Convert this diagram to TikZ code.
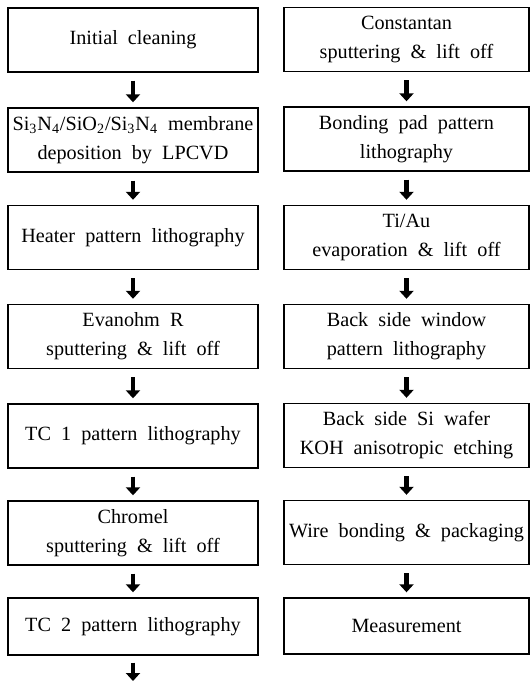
\documentclass[tikz,border=0pt]{standalone}
\usepackage{fontspec}
\setmainfont{Liberation Serif}[WordSpace=2.0]
\usetikzlibrary{arrows.meta}

\begin{document}
\begin{tikzpicture}[
  font=\fontsize{11.5}{16.5}\selectfont,
  stepbox/.style={
    rectangle,
    draw=black,
    line width=0.8pt,
    align=center,
    inner sep=1pt,
    minimum width=5cm,
    minimum height=1.28cm
  },
  rightbox/.style={
    stepbox,
    minimum width=4.9cm
  },
  arrow/.style={-{Triangle[width=2.8mm,length=1.6mm]}, line width=2.8pt, draw=black,
    shorten <=0.16cm, shorten >=0.1cm}
]
  \useasboundingbox (0,0) rectangle (10.62,-13.62);

  % left column
  \node[stepbox] (init)     at (2.66,-0.80)  {Initial cleaning};
  \node[stepbox] (membrane) at (2.66,-2.80)  {Si\textsubscript{3}N\textsubscript{4}/SiO\textsubscript{2}/Si\textsubscript{3}N\textsubscript{4} membrane\\deposition by LPCVD};
  \node[stepbox] (heater)   at (2.66,-4.75)  {Heater pattern lithography};
  \node[stepbox] (evanohm)  at (2.66,-6.73)  {Evanohm R\\sputtering \& lift off};
  \node[stepbox] (tcone)    at (2.66,-8.72)  {TC 1 pattern lithography};
  \node[stepbox] (chromel)  at (2.66,-10.66) {Chromel\\sputtering \& lift off};
  \node[stepbox, minimum height=1.14cm] (tctwo) at (2.66,-12.53) {TC 2 pattern lithography};
  \coordinate (leftend) at (2.66,-13.62);

  % right column
  \node[rightbox] (constantan) at (8.13,-0.79)  {Constantan\\sputtering \& lift off};
  \node[rightbox] (bondpad)    at (8.13,-2.78)  {Bonding pad pattern\\lithography};
  \node[rightbox] (tiau)       at (8.13,-4.75)  {Ti/Au\\evaporation \& lift off};
  \node[rightbox] (window)     at (8.13,-6.73)  {Back side window\\pattern lithography};
  \node[rightbox] (koh)        at (8.13,-8.71)  {Back side Si wafer\\KOH anisotropic etching};
  \node[rightbox] (wire)       at (8.13,-10.65) {Wire bonding \& packaging};
  \node[rightbox, minimum height=1.12cm] (measure) at (8.13,-12.52) {Measurement};

  \draw[arrow] (init) -- (membrane);
  \draw[arrow] (membrane) -- (heater);
  \draw[arrow] (heater) -- (evanohm);
  \draw[arrow] (evanohm) -- (tcone);
  \draw[arrow] (tcone) -- (chromel);
  \draw[arrow] (chromel) -- (tctwo);
  \draw[arrow, shorten <=0.14cm, shorten >=0cm] (tctwo) -- (leftend);

  \draw[arrow] (constantan) -- (bondpad);
  \draw[arrow] (bondpad) -- (tiau);
  \draw[arrow] (tiau) -- (window);
  \draw[arrow] (window) -- (koh);
  \draw[arrow] (koh) -- (wire);
  \draw[arrow] (wire) -- (measure);
\end{tikzpicture}
\end{document}
